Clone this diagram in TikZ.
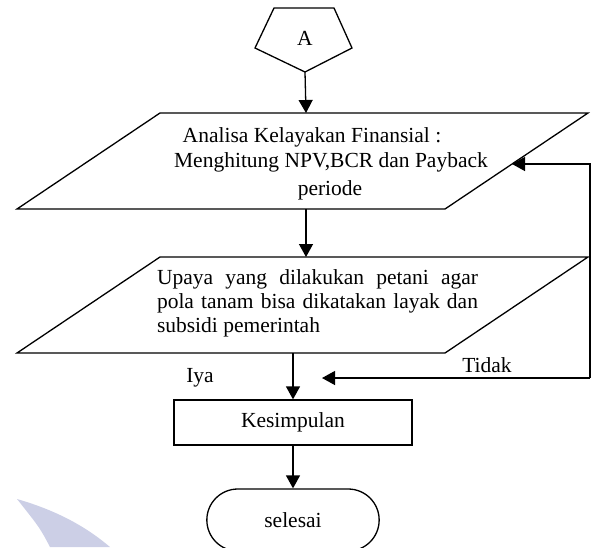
\documentclass[tikz,border=0pt]{standalone}
\usepackage{fontspec}
\setmainfont{Liberation Serif}
\usetikzlibrary{positioning,arrows.meta,shapes.misc}
\definecolor{wmark}{RGB}{204,207,230}

\begin{document}
\begin{tikzpicture}[x=1pt,y=-1pt,>={Triangle[width=14pt,length=13pt]},
    line width=1.3pt,
    font=\fontsize{21.5}{24}\selectfont,
    arr/.style={->},
    procbox/.style={draw,rectangle,minimum width=238pt,minimum height=45pt},
    termbox/.style={draw,rounded rectangle,minimum width=179pt,minimum height=62pt}]
  \useasboundingbox (0,0) rectangle (591,547);
  \clip (0,0) rectangle (591,547);
  % --- faint mark, bottom left ---
  \fill[wmark] (17,499) .. controls (62,512) and (90,530) .. (110,547)
               -- (50,547) .. controls (40,528) .. (17,499);
  % --- off-page connector A ---
  \draw (274,8) -- (334,8) -- (352,48) -- (305,72) -- (255,48) -- cycle;
  \coordinate (pent) at (305,72);
  \node (conA) at (305,38) {A};
  % --- first input/output box ---
  \draw (17,209) -- (160,113) -- (588,113) -- (445,209) -- cycle;
  \coordinate (par1top) at (306,113);
  \coordinate (par1bot) at (306,209);
  \coordinate (par1side) at (512,164);
  \node (t1a) at (312,137) {Analisa Kelayakan Finansial :};
  \node (t1b) at (331,162) {Menghitung NPV,BCR dan Payback};
  \node (t1c) at (330,190) {periode};
  % --- second input/output box ---
  \draw (17,353) -- (160,257) -- (588,257) -- (445,353) -- cycle;
  \coordinate (par2top) at (306,257);
  \coordinate (par2bot) at (293,353);
  \node[align=left,inner sep=0pt] (t2) at (317.5,303)
    {\makebox[321pt][s]{Upaya yang dilakukan petani agar}\\
     \makebox[321pt][s]{pola tanam bisa dikatakan layak dan}\\
     subsidi pemerintah};
  % --- process and end ---
  \node[procbox] (kes) at (293,422.5) {Kesimpulan};
  \node[termbox] (selesai) at (293,520) {selesai};
  % --- flow ---
  \draw[arr] (pent) -- (par1top);
  \draw[arr] (par1bot) -- (par2top);
  \draw[arr] (par2bot) -- (kes.north);
  \draw[arr] (kes.south) -- (selesai.north);
  % --- loop back when not feasible ---
  \coordinate (loop) at (590,378);
  \coordinate (join) at (322,378);
  \draw[arr] (loop) -- (join);
  \draw[arr] (loop) |- (par1side);
  \node (tidak) at (487,365) {Tidak};
  \node (iya) at (200,378) {Iya};
\end{tikzpicture}
\end{document}
